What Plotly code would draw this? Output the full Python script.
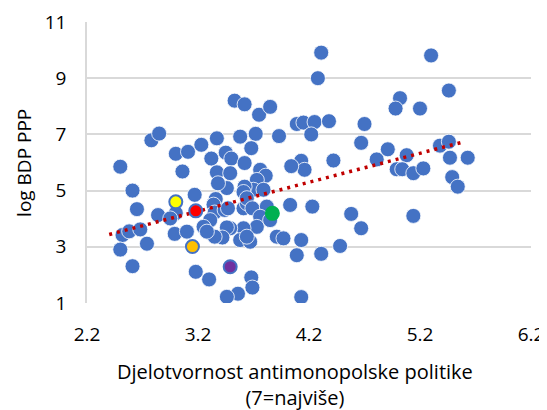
import plotly.graph_objects as go

# ==========================================
# Podaci (očitano sa slike)
# ==========================================
x_vals = [
    4.31, 4.28, 5.30, 5.46, 5.02, 4.98, 5.20,
    3.53, 3.62, 3.75, 3.85,
    4.09, 4.15, 4.25, 4.38, 4.22, 4.70, 4.67,
    4.91, 4.81, 5.08, 5.38, 5.46, 5.47, 5.63,
    4.99, 5.04, 5.14, 5.23, 5.49, 5.54, 5.14,
    4.13, 4.16, 4.42, 3.93, 3.58, 3.72, 3.68,
    2.78, 2.85, 3.00, 3.11, 3.23, 3.37, 3.32, 3.45, 3.50, 3.62,
    2.50, 3.06, 3.37, 3.49, 4.04,
    3.76, 3.81, 3.73, 3.70, 3.79, 3.62, 3.46, 3.38, 3.61,
    3.36, 3.34, 3.35, 3.44, 3.47, 3.61, 3.64, 3.64, 3.69, 3.82,
    3.76, 3.73, 3.85, 3.61, 3.49, 3.46, 3.58, 3.67, 3.42, 3.35,
    3.64, 3.31,
    4.03, 4.23, 4.58, 4.67, 3.91, 3.97, 4.13, 4.09, 4.31, 4.48, 4.13,
    3.68, 3.69, 3.56, 3.46, 3.30, 3.18,
    2.61, 2.65, 2.84, 3.17, 3.00, 2.95, 2.99, 3.10, 3.25, 3.28,
    2.74, 2.52, 2.58, 2.68, 2.50, 2.61,
]
y_vals = [
    9.91, 9.00, 9.81, 8.56, 8.29, 7.92, 7.92,
    8.20, 8.07, 7.70, 7.98,
    7.37, 7.42, 7.44, 7.47, 7.00, 7.37, 6.70,
    6.47, 6.11, 6.26, 6.60, 6.74, 6.17, 6.17,
    5.76, 5.76, 5.62, 5.79, 5.48, 5.14, 4.10,
    6.06, 5.74, 6.07, 6.94, 6.92, 7.02, 6.51,
    6.79, 7.03, 6.31, 6.38, 6.63, 6.86, 6.14, 6.35, 6.14, 5.98,
    5.85, 5.68, 5.65, 5.62, 5.87,
    5.74, 5.53, 5.38, 5.03, 5.03, 5.14, 5.09, 5.26, 4.95,
    4.70, 4.50, 4.22, 4.31, 4.37, 4.37, 4.55, 4.73, 4.37, 4.43,
    4.07, 3.71, 3.95, 3.66, 3.66, 3.69, 3.24, 3.18, 3.33, 3.36,
    3.36, 3.95,
    4.49, 4.43, 4.17, 3.66, 3.36, 3.30, 3.24, 2.70, 2.75, 3.03, 1.21,
    1.91, 1.55, 1.33, 1.22, 1.84, 2.11,
    5.00, 4.34, 4.13, 4.85, 4.20, 4.01, 3.46, 3.54, 3.71, 3.54,
    3.11, 3.42, 3.55, 3.62, 2.90, 2.31,
]

# istaknute zemlje
hl_x = [3.00, 3.18, 3.15, 3.49, 3.87]
hl_y = [4.60, 4.28, 3.01, 2.29, 4.19]
hl_colors = ["#FFFF00", "#FF0000", "#FFC000", "#7030A0", "#00B050"]
hl_lines = ["#4472C4", "#4472C4", "#4472C4", "#4472C4", "#00B050"]

# linearni trend
trend_x = [2.40, 5.57]
trend_y = [3.44, 6.71]

x_ticks = [2.2, 3.2, 4.2, 5.2, 6.2]
y_ticks = [1, 3, 5, 7, 9, 11]

COLOR_BLUE = "#4472C4"
COLOR_TREND = "#C00000"
FONT = "Open Sans"

fig = go.Figure()

fig.add_trace(
    go.Scatter(
        x=x_vals,
        y=y_vals,
        mode="markers",
        marker=dict(
            color=COLOR_BLUE,
            size=15,
            line=dict(color="white", width=0.8)
        ),
        showlegend=False
    )
)

fig.add_trace(
    go.Scatter(
        x=trend_x,
        y=trend_y,
        mode="lines",
        line=dict(color=COLOR_TREND, width=3.5, dash="3px,5px"),
        showlegend=False
    )
)

fig.add_trace(
    go.Scatter(
        x=hl_x,
        y=hl_y,
        mode="markers",
        marker=dict(
            color=hl_colors,
            size=13,
            line=dict(color=hl_lines, width=2)
        ),
        showlegend=False
    )
)

# stranica ima 8px margine, pa je figura manja za to
fig.update_layout(
    width=539,
    height=402,
    plot_bgcolor="white",
    paper_bgcolor="white",
    margin=dict(l=79, r=16, t=14, b=107),
    font=dict(family=FONT, size=19, color="black"),
    annotations=[
        dict(
            text="Djelotvornost antimonopolske politike<br>(7=najviše)",
            x=0.468, y=-0.29,
            xref="paper", yref="paper",
            xanchor="center", yanchor="middle",
            showarrow=False,
            font=dict(family=FONT, size=20, color="black")
        ),
        dict(
            text="log BDP PPP",
            x=-0.177, y=0.5,
            xref="paper", yref="paper",
            xanchor="left", yanchor="middle",
            textangle=-90,
            showarrow=False,
            font=dict(family=FONT, size=19, color="black")
        ),
    ]
)

fig.update_xaxes(
    range=[2.2, 6.2],
    tickvals=x_ticks,
    ticktext=[f"{v:.1f}" for v in x_ticks],
    showgrid=False,
    zeroline=False,
    showline=False,
    ticks="",
    automargin=False,
    ticklabelstandoff=18,
    tickfont=dict(family=FONT, size=19, color="black")
)

fig.update_yaxes(
    range=[1, 11],
    tickvals=y_ticks,
    showgrid=True,
    gridcolor="#D9D9D9",
    gridwidth=1.5,
    zeroline=False,
    showline=True,
    linecolor="#D9D9D9",
    linewidth=1.5,
    ticks="",
    automargin=False,
    ticklabelstandoff=15,
    tickfont=dict(family=FONT, size=19, color="black")
)

fig.write_html("out.html")
